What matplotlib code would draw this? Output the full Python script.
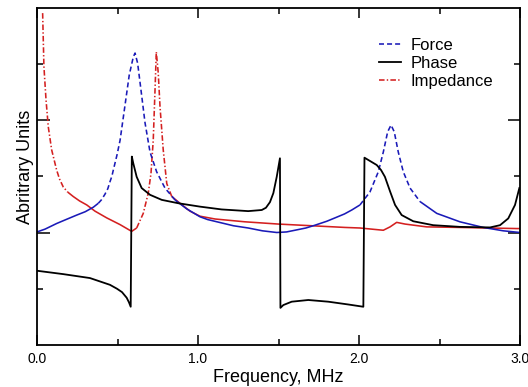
import numpy as np
import matplotlib
matplotlib.use("Agg")
import matplotlib.pyplot as plt
from matplotlib.lines import Line2D

# valores (frecuencia en MHz, unidades arbitrarias 0..6)
force_f = [0.0, 0.05, 0.122, 0.18, 0.247, 0.30, 0.35, 0.381, 0.40, 0.422,
           0.44, 0.453, 0.465, 0.474, 0.497, 0.516, 0.547, 0.573, 0.598, 0.609,
           0.625, 0.646, 0.671, 0.702, 0.743, 0.795, 0.857, 0.930, 1.012, 1.06,
           1.147, 1.22, 1.312, 1.40, 1.489, 1.55, 1.602, 1.67, 1.727, 1.80,
           1.851, 1.91, 1.955, 2.006, 2.068, 2.120, 2.151, 2.178, 2.199, 2.219,
           2.244, 2.275, 2.317, 2.379, 2.483, 2.627, 2.772, 2.896, 3.0]
force_v = [2.01, 2.06, 2.16, 2.23, 2.31, 2.37, 2.45, 2.52, 2.58, 2.68,
           2.78, 2.90, 3.00, 3.11, 3.38, 3.64, 4.27, 4.80, 5.12, 5.19,
           5.01, 4.53, 3.95, 3.43, 3.08, 2.79, 2.58, 2.42, 2.28, 2.23,
           2.17, 2.12, 2.08, 2.03, 2.00, 2.01, 2.04, 2.08, 2.13, 2.20,
           2.26, 2.33, 2.40, 2.49, 2.72, 3.08, 3.43, 3.79, 3.91, 3.79,
           3.43, 3.08, 2.79, 2.55, 2.34, 2.19, 2.09, 2.03, 2.00]

phase_f = [0.0, 0.163, 0.329, 0.391, 0.453, 0.497, 0.528, 0.557, 0.571, 0.582,
           0.589, 0.598, 0.619, 0.650, 0.702, 0.775, 0.878, 1.012, 1.147, 1.312,
           1.396, 1.422, 1.447, 1.468, 1.489, 1.509, 1.512, 1.530, 1.582, 1.685,
           1.809, 1.934, 2.027, 2.034, 2.110, 2.137, 2.161, 2.193, 2.224, 2.265,
           2.337, 2.461, 2.627, 2.814, 2.876, 2.927, 2.969, 2.996]
phase_v = [1.32, 1.26, 1.19, 1.13, 1.07, 1.00, 0.94, 0.84, 0.76, 0.68,
           3.35, 3.23, 2.99, 2.79, 2.67, 2.58, 2.52, 2.46, 2.41, 2.38,
           2.40, 2.44, 2.54, 2.70, 2.99, 3.32, 0.66, 0.71, 0.77, 0.80,
           0.77, 0.72, 0.68, 3.33, 3.20, 3.11, 2.99, 2.73, 2.49, 2.31,
           2.20, 2.13, 2.10, 2.09, 2.13, 2.25, 2.49, 2.79]

imp_f = [0.035, 0.043, 0.056, 0.070, 0.091, 0.122, 0.14, 0.163, 0.19, 0.225,
         0.265, 0.309, 0.360, 0.433, 0.516, 0.588, 0.619, 0.660, 0.691, 0.708,
         0.722, 0.733, 0.741, 0.753, 0.764, 0.784, 0.806, 0.837, 0.888, 0.95,
         1.012, 1.106, 1.292, 1.499, 1.706, 1.913, 2.006, 2.151, 2.193, 2.234,
         2.286, 2.420, 2.627, 2.980, 3.0]
imp_v = [5.90, 4.95, 4.36, 3.88, 3.47, 3.11, 2.95, 2.81, 2.72, 2.64,
         2.56, 2.49, 2.38, 2.26, 2.14, 2.02, 2.08, 2.34, 2.70, 3.05,
         3.64, 4.53, 5.21, 4.84, 4.24, 3.47, 2.87, 2.64, 2.52, 2.38,
         2.29, 2.24, 2.19, 2.15, 2.12, 2.09, 2.08, 2.04, 2.10, 2.18,
         2.15, 2.10, 2.09, 2.07, 2.07]

plt.rcParams["font.family"] = ["Liberation Sans", "DejaVu Sans"]
plt.rcParams["lines.scale_dashes"] = False

fig = plt.figure(figsize=(5.28, 3.87), dpi=100)
ax = fig.add_axes([37 / 528, 42 / 387, 483 / 528, 337.5 / 387])
ax.set_xlim(0, 3.0)
ax.set_ylim(0, 6)

DASH = (0, (3.6, 2.2))
DASHDOT = (0, (4.0, 1.6, 1.0, 1.6))


def trazar(f, v, color, estilo, lw=1.15):
    # el programa original solo muestra el guion en los tramos empinados;
    # en los tramos planos la linea parece continua
    pts = ax.transData.transform(np.column_stack([f, v]))
    d = np.diff(pts, axis=0)
    empinado = np.abs(d[:, 1]) > 0.9 * np.abs(d[:, 0])
    i = 0
    while i < len(empinado):
        j = i
        while j + 1 < len(empinado) and empinado[j + 1] == empinado[i]:
            j += 1
        ls = estilo if empinado[i] else "-"
        ax.plot(f[i:j + 2], v[i:j + 2], color=color, lw=lw, linestyle=ls,
                solid_capstyle="butt", dash_capstyle="butt")
        i = j + 1


trazar(imp_f, imp_v, "#d42020", DASHDOT)
trazar(force_f, force_v, "#1a1ab8", DASH)
ax.plot(phase_f, phase_v, color="black", lw=1.3)

handles = [Line2D([], [], color="#1a1ab8", lw=1.15, linestyle=DASH),
           Line2D([], [], color="black", lw=1.3),
           Line2D([], [], color="#d42020", lw=1.15, linestyle=DASHDOT)]
ax.legend(handles, ["Force", "Phase", "Impedance"], loc="upper left",
          bbox_to_anchor=(0.708, 0.909), frameon=False, borderpad=0,
          borderaxespad=0, fontsize=12, handlelength=1.3,
          handletextpad=0.6, labelspacing=0.16)

ax.set_xticks([0, 1, 2, 3])
ax.set_xticklabels(["0.0", "1.0", "2.0", "3.0"])
ax.set_xticks([0.5, 1.5, 2.5], minor=True)
ax.set_yticks([2, 4])
ax.set_yticks([1, 3, 5], minor=True)
ax.tick_params(which="both", direction="in", top=True, right=True,
               width=1.1, labelsize=10, pad=5)
ax.tick_params(axis="y", which="major", length=9, labelleft=False)
ax.tick_params(axis="x", which="major", length=7)
ax.tick_params(which="minor", length=4)
for s in ax.spines.values():
    s.set_linewidth(1.3)

ax.set_xlabel("Frequency, MHz", fontsize=13, labelpad=2)
ax.set_ylabel("Abritrary Units", fontsize=13)
ax.yaxis.set_label_coords(-0.007, 0.527)

fig.savefig("out.png", dpi=100)
